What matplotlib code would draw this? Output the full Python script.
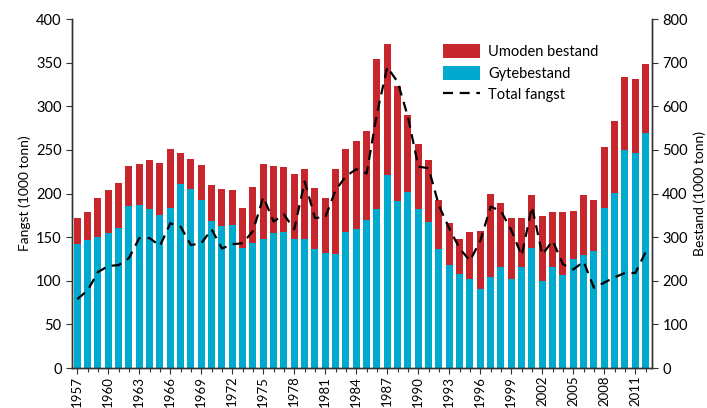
import matplotlib
matplotlib.use("Agg")
import matplotlib.pyplot as plt
import numpy as np

plt.rcParams['font.family'] = ['Lato', 'DejaVu Sans']

years = list(range(1957, 2013))

# Bestand (1000 tonn), right axis
gytebestand = [284, 293, 300, 309, 322, 371, 374, 364, 350, 367,
               422, 410, 385, 337, 326, 328, 276, 287, 297, 309,
               313, 297, 297, 272, 263, 261, 311, 318, 339, 364,
               442, 383, 404, 364, 335, 273, 236, 215, 204, 182,
               209, 231, 204, 231, 276, 200, 231, 213, 250, 259,
               268, 367, 402, 500, 493, 539]
umoden = [59, 64, 91, 99, 102, 92, 95, 114, 121, 135,
          71, 70, 80, 82, 84, 80, 91, 127, 172, 154,
          148, 148, 159, 141, 128, 195, 191, 202, 204, 344,
          301, 263, 176, 149, 141, 112, 97, 82, 109, 133,
          191, 147, 139, 112, 121, 148, 127, 145, 111, 138,
          117, 140, 164, 168, 169, 159]

# Total fangst (1000 tonn), left axis
fangst = [79, 89, 110, 117, 118, 126, 149, 149, 140, 166,
          162, 141, 143, 159, 137, 142, 143, 157, 196, 168,
          176, 159, 214, 172, 173, 204, 220, 228, 223, 292,
          345, 328, 288, 231, 229, 186, 160, 137, 123, 146,
          185, 180, 158, 129, 185, 130, 146, 119, 113, 122,
          92, 98, 104, 109, 109, 133]

rod = '#C8262D'
bla = '#00AACE'
grey = '#333333'

fig = plt.figure(figsize=(7.07, 4.08), dpi=100)
ax = fig.add_axes([0.102, 0.098, 0.820, 0.855])
ax2 = ax.twinx()

x = np.array(years)
b1 = ax2.bar(x, gytebestand, width=0.68, color=bla, label='Gytebestand')
b2 = ax2.bar(x, umoden, width=0.68, bottom=gytebestand, color=rod, label='Umoden bestand')
ln, = ax.plot(x, fangst, color='black', linestyle=(0, (4.5, 3)), linewidth=1.6, label='Total fangst')

ax.set_zorder(ax2.get_zorder() + 1)
ax.patch.set_visible(False)

ax.set_xlim(1956.5, 2012.6)
ax.set_ylim(0, 400)
ax2.set_ylim(0, 800)
ax.set_yticks(range(0, 401, 50))
ax2.set_yticks(range(0, 801, 100))
ax.set_xticks(range(1957, 2012, 3))
ax.set_xticks(years, minor=True)
ax.set_xticklabels([str(y) for y in range(1957, 2012, 3)], rotation=90)

for a in (ax, ax2):
    a.spines['top'].set_visible(False)
    for s in ('left', 'right', 'bottom'):
        a.spines[s].set_color(grey)
        a.spines[s].set_linewidth(1.0)
    a.tick_params(colors=grey, labelcolor='black', labelsize=10.5, length=4, width=0.8)
ax.tick_params(axis='x', which='minor', length=3, width=0.8, colors=grey)
ax.tick_params(axis='x', labelsize=9.5, pad=1.5)

ax.set_ylabel('Fangst (1000 tonn)', fontsize=10)
ax2.set_ylabel('Bestand (1000 tonn)', fontsize=10)

ax.legend([b2, b1, ln], ['Umoden bestand', 'Gytebestand', 'Total fangst'],
          loc='upper left', bbox_to_anchor=(0.63, 0.945), frameon=False,
          fontsize=10.5, handlelength=2.5, handleheight=1.1, labelspacing=0.45,
          handletextpad=0.6, borderaxespad=0)

fig.savefig('out.png', dpi=100)
